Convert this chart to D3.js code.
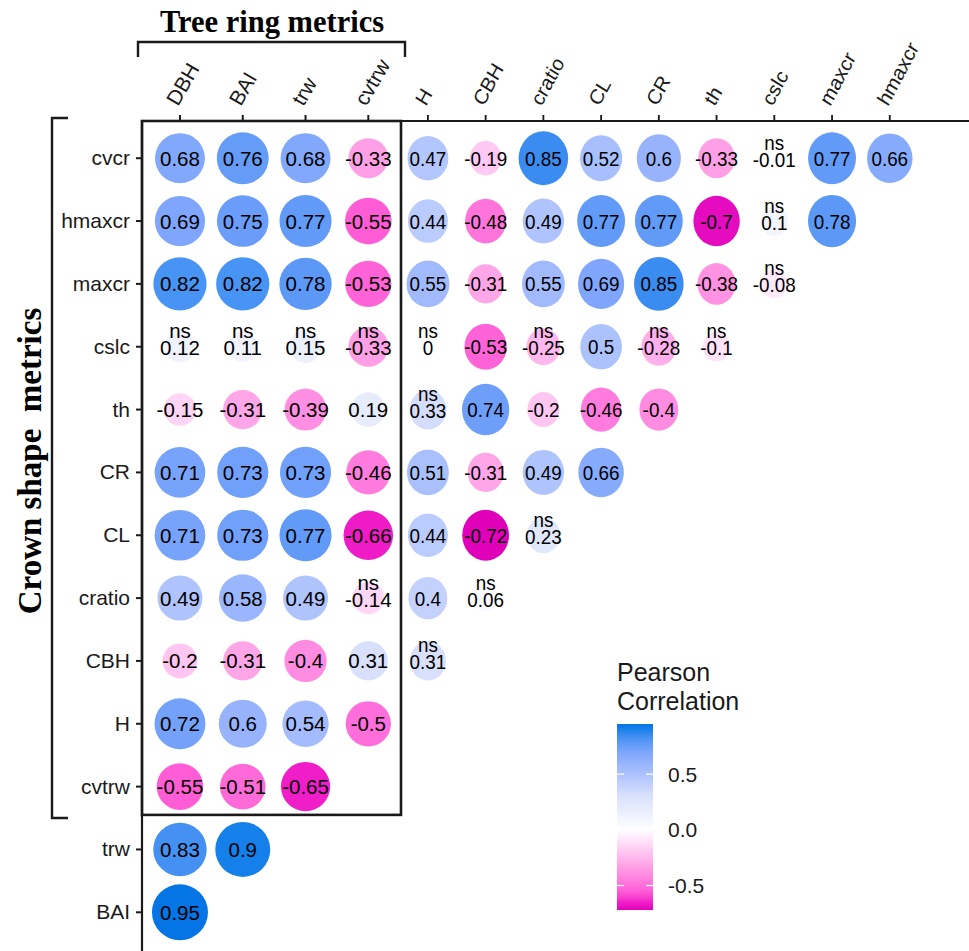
<!DOCTYPE html>
<html>
<head>
<meta charset="utf-8">
<script src="https://cdn.jsdelivr.net/npm/d3@7"></script>
<style>
  html, body { margin: 0; padding: 0; background: #fff; }
  svg { display: block; }
  text { font-family: Arial, "Liberation Sans", sans-serif; }
  .serif { font-family: "Times New Roman", "Liberation Serif", serif; font-weight: bold; }
</style>
</head>
<body>
<svg id="chart" width="969" height="951"></svg>
<script>
// Variables on each axis
const rowVars = ["cvcr", "hmaxcr", "maxcr", "cslc", "th", "CR", "CL", "cratio", "CBH", "H", "cvtrw", "trw", "BAI"];
const colVars = ["DBH", "BAI", "trw", "cvtrw", "H", "CBH", "cratio", "CL", "CR", "th", "cslc", "maxcr", "hmaxcr"];

// Pearson coefficients, one list per row (lower triangle, columns in colVars order)
const corrValues = [
  [0.68, 0.76, 0.68, -0.33, 0.47, -0.19, 0.85, 0.52, 0.6, -0.33, -0.01, 0.77, 0.66],
  [0.69, 0.75, 0.77, -0.55, 0.44, -0.48, 0.49, 0.77, 0.77, -0.7, 0.1, 0.78],
  [0.82, 0.82, 0.78, -0.53, 0.55, -0.31, 0.55, 0.69, 0.85, -0.38, -0.08],
  [0.12, 0.11, 0.15, -0.33, 0, -0.53, -0.25, 0.5, -0.28, -0.1],
  [-0.15, -0.31, -0.39, 0.19, 0.33, 0.74, -0.2, -0.46, -0.4],
  [0.71, 0.73, 0.73, -0.46, 0.51, -0.31, 0.49, 0.66],
  [0.71, 0.73, 0.77, -0.66, 0.44, -0.72, 0.23],
  [0.49, 0.58, 0.49, -0.14, 0.4, 0.06],
  [-0.2, -0.31, -0.4, 0.31, 0.31],
  [0.72, 0.6, 0.54, -0.5],
  [-0.55, -0.51, -0.65],
  [0.83, 0.9],
  [0.95]
];

// Column indices of non-significant pairs in each row
const nsFlags = [
  [10], [10], [10],
  [0, 1, 2, 3, 4, 6, 8, 9],
  [4], [], [6], [3, 5], [4], [], [], [], []
];

const legendTicks = [-0.5, 0, 0.5];
const colorLimits = [-0.72, 0.95];

// Diverging magenta – white – blue ramp
const colorStops = [-0.72, -0.65, -0.55, -0.33, -0.2, 0, 0.31, 0.47, 0.68, 0.76, 0.82, 0.9, 0.95];
const colorRamp = ["#e000ba", "#f01ec9", "#ff5cd6", "#ffa0e6", "#ffc6f2", "#ffffff",
                   "#d8e0fb", "#b3c6fd", "#82a8fc", "#659cf8", "#4894f4", "#1680ea", "#0575e5"];

const svg = d3.select("#chart");
const ink = "#1a1a1a";

const x = d3.scalePoint().domain(colVars).range([142.3, 971]).padding(0.6);
const y = d3.scalePoint().domain(rowVars).range([120.5, 950]).padding(0.6);

const color = d3.scaleLinear()
  .domain(colorStops)
  .range(colorRamp)
  .interpolate(d3.interpolateLab)
  .clamp(true);

const radius = d3.scaleSqrt().domain([0, 0.95]).range([8.5, 28]);

const cells = [];
corrValues.forEach((vals, i) => {
  vals.forEach((v, j) => {
    cells.push({ row: rowVars[i], col: colVars[j], j, v, ns: nsFlags[i].includes(j) });
  });
});

// Tree-ring columns drawn at full width; crown columns drawn in a narrower strip
const splitAt = 4;
const sx = 0.9196, x0 = 391.6;
const leftG = svg.append("g");
const rightG = svg.append("g")
  .attr("transform", `translate(${x0},0) scale(${sx},1) translate(${-x0},0)`);
const groupFor = j => (j < splitAt ? leftG : rightG);

const labelSize = 21, valueSize = 20.5;

// Top axis ticks and rotated labels
colVars.forEach((c, j) => {
  const g = groupFor(j);
  g.append("line")
    .attr("x1", x(c)).attr("x2", x(c))
    .attr("y1", 115).attr("y2", 121)
    .attr("stroke", ink).attr("stroke-width", 2);
  g.append("text")
    .attr("transform", `translate(${x(c) - 2},107) rotate(-60)`)
    .attr("font-size", labelSize)
    .attr("fill", ink)
    .text(c);
});

// Circles and value labels
cells.forEach(d => {
  const g = groupFor(d.j);
  const cx = x(d.col), cy = y(d.row);
  g.append("circle")
    .attr("cx", cx).attr("cy", cy)
    .attr("r", radius(Math.abs(d.v)))
    .attr("fill", color(d.v));
  if (d.ns) {
    g.append("text")
      .attr("x", cx).attr("y", cy - 8.5)
      .attr("text-anchor", "middle")
      .attr("font-size", valueSize).attr("fill", "#000")
      .text("ns");
    g.append("text")
      .attr("x", cx).attr("y", cy + 8.5)
      .attr("text-anchor", "middle")
      .attr("font-size", valueSize).attr("fill", "#000")
      .text(String(d.v));
  } else {
    g.append("text")
      .attr("x", cx).attr("y", cy + 7.5)
      .attr("text-anchor", "middle")
      .attr("font-size", valueSize).attr("fill", "#000")
      .text(String(d.v));
  }
});

// Left axis
rowVars.forEach(r => {
  svg.append("line")
    .attr("x1", 136).attr("x2", 142)
    .attr("y1", y(r)).attr("y2", y(r))
    .attr("stroke", ink).attr("stroke-width", 2);
  svg.append("text")
    .attr("x", 130).attr("y", y(r) + 7)
    .attr("text-anchor", "end")
    .attr("font-size", labelSize).attr("fill", ink)
    .text(r);
});

// Axis lines
svg.append("line").attr("x1", 142).attr("x2", 969).attr("y1", 121).attr("y2", 121)
  .attr("stroke", ink).attr("stroke-width", 2.2);
svg.append("line").attr("x1", 142).attr("x2", 142).attr("y1", 120).attr("y2", 951)
  .attr("stroke", ink).attr("stroke-width", 2.2);

// Box around the tree-ring × crown-shape block
const boxRight = 401;
const boxBottom = y("cvtrw") + y.step() * 0.45;
svg.append("rect")
  .attr("x", 142).attr("y", 121)
  .attr("width", boxRight - 142).attr("height", boxBottom - 121)
  .attr("fill", "none").attr("stroke", ink).attr("stroke-width", 2.6);

// Group brackets and headings
svg.append("path")
  .attr("d", `M138,57 V42 H405 V57`)
  .attr("fill", "none").attr("stroke", ink).attr("stroke-width", 2.4);
svg.append("text").attr("class", "serif")
  .attr("x", 272).attr("y", 32)
  .attr("text-anchor", "middle")
  .attr("font-size", 30.5).attr("fill", "#000")
  .text("Tree ring metrics");

svg.append("path")
  .attr("d", `M68,118 H52 V818 H68`)
  .attr("fill", "none").attr("stroke", ink).attr("stroke-width", 2.4);
svg.append("text").attr("class", "serif")
  .attr("transform", `translate(41,461) rotate(-90)`)
  .attr("text-anchor", "middle")
  .attr("font-size", 33).attr("fill", "#000")
  .style("white-space", "pre")
  .text("Crown shape  metrics");

// Colour legend
const ly = d3.scaleLinear().domain(colorLimits).range([910, 724]);
const defs = svg.append("defs");
const grad = defs.append("linearGradient")
  .attr("id", "corrGrad")
  .attr("x1", 0).attr("y1", 1).attr("x2", 0).attr("y2", 0);
d3.range(0, 1.0001, 0.02).forEach(t => {
  const v = colorLimits[0] + t * (colorLimits[1] - colorLimits[0]);
  grad.append("stop").attr("offset", t).attr("stop-color", color(v));
});
const lx = 617, lw = 36;
svg.append("rect")
  .attr("x", lx).attr("y", ly(colorLimits[1]))
  .attr("width", lw).attr("height", ly(colorLimits[0]) - ly(colorLimits[1]))
  .attr("fill", "url(#corrGrad)");
legendTicks.forEach(t => {
  [[lx, lx + 7], [lx + lw - 7, lx + lw]].forEach(([a, b]) => {
    svg.append("line")
      .attr("x1", a).attr("x2", b)
      .attr("y1", ly(t)).attr("y2", ly(t))
      .attr("stroke", "#fff").attr("stroke-width", 1.2);
  });
  svg.append("text")
    .attr("x", 668).attr("y", ly(t) + 7.5)
    .attr("font-size", 21).attr("fill", ink)
    .text(d3.format(".1f")(t).replace("−", "-"));
});
svg.append("text").attr("x", 617).attr("y", 681)
  .attr("font-size", 25).attr("fill", ink).text("Pearson");
svg.append("text").attr("x", 617).attr("y", 710)
  .attr("font-size", 25).attr("fill", ink).text("Correlation");
</script>
</body>
</html>
